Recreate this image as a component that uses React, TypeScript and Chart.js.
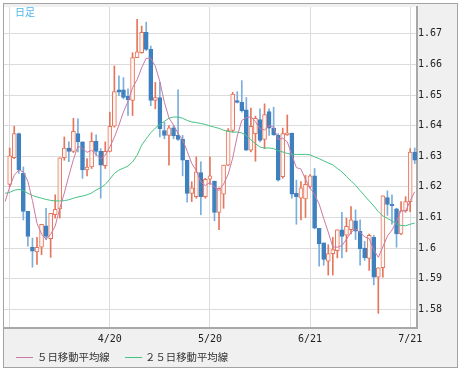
import React, { useEffect, useRef } from "react";
import { Chart, registerables } from "chart.js";

Chart.register(...registerables);

// ---- data (candle index 0 = first gridline day) ----
const opens = [
  1.6208, 1.6295, 1.6374, 1.6244, 1.612, 1.6003, 1.5988, 1.6003, 1.6073, 1.6031,
  1.6109, 1.6128, 1.6295, 1.6327, 1.6316, 1.6374, 1.6347, 1.6255, 1.6265, 1.6349,
  1.6316, 1.6269, 1.6316, 1.6398, 1.6517, 1.6517, 1.6496, 1.6482, 1.6622, 1.6638,
  1.6705, 1.6649, 1.6482, 1.6492, 1.6384, 1.6368, 1.6393, 1.6368, 1.6355, 1.6287,
  1.6179, 1.6168, 1.6247, 1.6168, 1.6225, 1.6219, 1.6117, 1.6176, 1.6271, 1.6384,
  1.6482, 1.6476, 1.6452, 1.632, 1.6374, 1.642, 1.6355, 1.6446, 1.6392, 1.6368,
  1.6233, 1.637, 1.6376, 1.6179, 1.6163, 1.6161, 1.62, 1.6236, 1.6065, 1.6017,
  1.5957, 1.5982, 1.5992, 1.606, 1.6042, 1.606, 1.6089, 1.6055, 1.6, 1.5966,
  1.6035, 1.5905, 1.5936, 1.6165, 1.6143, 1.6128, 1.6046, 1.6122, 1.6152, 1.6314,
];
const highs = [
  1.6327, 1.6398, 1.6376, 1.6265, 1.612, 1.6033, 1.6035, 1.6078, 1.613, 1.6114,
  1.6174, 1.6295, 1.6363, 1.6347, 1.6424, 1.6422, 1.6347, 1.6292, 1.6377, 1.637,
  1.6325, 1.6347, 1.6444, 1.6595, 1.6563, 1.6557, 1.652, 1.6638, 1.6747, 1.6725,
  1.6738, 1.666, 1.6541, 1.6541, 1.6411, 1.64, 1.64, 1.6517, 1.6368, 1.6287,
  1.6217, 1.6298, 1.6282, 1.6228, 1.6298, 1.6219, 1.6197, 1.6271, 1.639, 1.6509,
  1.6511, 1.6547, 1.6492, 1.6457, 1.6431, 1.6455, 1.6471, 1.6455, 1.646, 1.6374,
  1.6392, 1.6435, 1.6376, 1.6222, 1.6217, 1.6238, 1.624, 1.626, 1.6065, 1.6017,
  1.6011, 1.6035, 1.606, 1.6117, 1.6098, 1.6136, 1.6125, 1.6092, 1.6022, 1.6046,
  1.6042, 1.5936, 1.6171, 1.6187, 1.6174, 1.613, 1.6152, 1.6168, 1.6325, 1.6327,
];
const lows = [
  1.62, 1.6292, 1.6244, 1.6092, 1.6006, 1.5938, 1.5947, 1.5979, 1.6028, 1.597,
  1.6098, 1.6098, 1.6287, 1.6282, 1.6312, 1.6314, 1.6228, 1.6236, 1.626, 1.6303,
  1.6163, 1.626, 1.6314, 1.6395, 1.6498, 1.6487, 1.6433, 1.6433, 1.6622, 1.6636,
  1.6645, 1.6465, 1.6455, 1.6363, 1.6357, 1.6271, 1.6357, 1.6352, 1.6236, 1.615,
  1.6152, 1.6163, 1.6109, 1.6163, 1.6208, 1.6089, 1.606, 1.613, 1.6269, 1.6379,
  1.6474, 1.6444, 1.6318, 1.6314, 1.6284, 1.6347, 1.6325, 1.6368, 1.6368, 1.6219,
  1.6228, 1.6368, 1.6163, 1.6078, 1.6092, 1.61, 1.6195, 1.6063, 1.5941, 1.5944,
  1.5912, 1.5912, 1.5968, 1.5968, 1.5988, 1.6046, 1.6028, 1.5944, 1.596, 1.5927,
  1.588, 1.5787, 1.5905, 1.6107, 1.6078, 1.6003, 1.6044, 1.6117, 1.6119, 1.6276,
];
const closes = [
  1.6301, 1.6374, 1.6255, 1.612, 1.6038, 1.599, 1.6003, 1.6078, 1.6038, 1.6114,
  1.6127, 1.6295, 1.6327, 1.6316, 1.6381, 1.6347, 1.6255, 1.6265, 1.6349, 1.6316,
  1.6271, 1.6316, 1.6398, 1.6511, 1.6509, 1.6492, 1.6485, 1.6622, 1.6641, 1.6705,
  1.6649, 1.6482, 1.6492, 1.639, 1.6368, 1.6393, 1.6366, 1.6355, 1.6287, 1.6179,
  1.6197, 1.6249, 1.6168, 1.6225, 1.6236, 1.6117, 1.6195, 1.6271, 1.6384, 1.6503,
  1.6476, 1.6449, 1.632, 1.6398, 1.6424, 1.6352, 1.6436, 1.6392, 1.637, 1.6222,
  1.6374, 1.6376, 1.6176, 1.6168, 1.6197, 1.6208, 1.6236, 1.6065, 1.6014, 1.5963,
  1.5982, 1.5995, 1.606, 1.6038, 1.6071, 1.6092, 1.6055, 1.5998, 1.5968, 1.6042,
  1.5905, 1.5936, 1.6171, 1.6143, 1.6139, 1.6046, 1.6122, 1.6152, 1.6314, 1.6287,
];
// moving averages start one day earlier (index -1)
const maStartIndex = -1;
const ma5 = [
  1.6152, 1.62, 1.6238, 1.6255, 1.6249, 1.6218, 1.6155, 1.6081, 1.6046, 1.6029,
  1.6045, 1.6072, 1.613, 1.618, 1.6236, 1.6289, 1.6333, 1.6325, 1.6313, 1.6319,
  1.6306, 1.6291, 1.6303, 1.633, 1.6362, 1.6401, 1.6445, 1.6479, 1.6524, 1.655,
  1.6589, 1.662, 1.662, 1.6594, 1.6544, 1.6476, 1.6425, 1.6402, 1.6374, 1.6354,
  1.6316, 1.6277, 1.6253, 1.6216, 1.6204, 1.6215, 1.6199, 1.6188, 1.6209, 1.6241,
  1.6294, 1.6366, 1.6417, 1.6426, 1.6429, 1.6413, 1.6389, 1.6386, 1.64, 1.6395,
  1.6354, 1.6359, 1.6347, 1.6304, 1.6263, 1.6258, 1.6225, 1.6197, 1.6175, 1.6144,
  1.6097, 1.6052, 1.6004, 1.6003, 1.6008, 1.6029, 1.6051, 1.6063, 1.6051, 1.6037,
  1.6031, 1.5994, 1.597, 1.6004, 1.6039, 1.6059, 1.6087, 1.6124, 1.612, 1.6155,
  1.6184,
];
const ma25 = [
  1.6179, 1.6182, 1.6189, 1.6192, 1.6188, 1.6179, 1.6172, 1.6167, 1.6163, 1.6159,
  1.6156, 1.6154, 1.6154, 1.6155, 1.6158, 1.6163, 1.6167, 1.617, 1.6174, 1.618,
  1.619, 1.6197, 1.6208, 1.6225, 1.6244, 1.6255, 1.6261, 1.6268, 1.6282, 1.6303,
  1.6336, 1.6357, 1.6377, 1.6392, 1.6404, 1.6414, 1.6424, 1.6428, 1.6428, 1.6424,
  1.6417, 1.6412, 1.641, 1.6407, 1.6404, 1.6399, 1.6395, 1.6391, 1.6385, 1.6381,
  1.6379, 1.6379, 1.6376, 1.6368, 1.6354, 1.6341, 1.633, 1.6327, 1.6327, 1.6325,
  1.6318, 1.6314, 1.6309, 1.6306, 1.6306, 1.6306, 1.6306, 1.6305, 1.6298, 1.6292,
  1.6285, 1.6278, 1.6272, 1.626, 1.6249, 1.6234, 1.622, 1.6205, 1.6188, 1.6171,
  1.6154, 1.6138, 1.6119, 1.6105, 1.6097, 1.6089, 1.6079, 1.6074, 1.6073, 1.6078,
  1.6082,
];
const xTickIndex = [0, 22, 44, 66, 88];
const xTickLabels = ["", "4/20", "5/20", "6/21", "7/21"];
const yTickValues = [1.58, 1.59, 1.6, 1.61, 1.62, 1.63, 1.64, 1.65, 1.66, 1.67];
const yTickLabels = ["1.58", "1.59", "1.6", "1.61", "1.62", "1.63", "1.64", "1.65", "1.66", "1.67"];
const seriesNames = ["５日移動平均線", "２５日移動平均線"];
const chartTitle = "日足";

// ---- styles ----
const UP = "#e5765c";
const UP_FILL = "#fff6f3";
const DOWN = "#3f80bf";
const DOWN_WICK = "#7aaedb";
const MA5_COLOR = "#cc7aa3";
const MA25_COLOR = "#46c283";
const GRID = "#dcdcdc";
const BORDER = "#a8a8a8";

const plotBg = {
  id: "plotBg",
  beforeDraw(chart: any) {
    const { ctx, chartArea } = chart;
    ctx.save();
    ctx.fillStyle = "#ffffff";
    ctx.fillRect(chartArea.left, chartArea.top, chartArea.right - chartArea.left, chartArea.bottom - chartArea.top);
    ctx.restore();
  },
};

export default function App() {
  const ref = useRef<HTMLCanvasElement>(null);

  useEffect(() => {
    if (!ref.current) return;
    const isUp = opens.map((o, i) => closes[i] >= o);
    const bodies = opens.map((o, i) => ({ x: i, y: [o, closes[i]] }));
    const wicks = lows.map((l, i) => ({ x: i, y: [l, highs[i]] }));
    const ma5Pts = ma5.map((v, k) => ({ x: k + maStartIndex, y: v }));
    const ma25Pts = ma25.map((v, k) => ({ x: k + maStartIndex, y: v }));

    const chart = new Chart(ref.current, {
      type: "bar",
      data: {
        datasets: [
          {
            type: "line",
            label: seriesNames[0],
            data: ma5Pts as any,
            borderColor: MA5_COLOR,
            borderWidth: 1,
            pointRadius: 0,
            tension: 0,
            order: 0,
          },
          {
            type: "line",
            label: seriesNames[1],
            data: ma25Pts as any,
            borderColor: MA25_COLOR,
            borderWidth: 1,
            pointRadius: 0,
            tension: 0,
            order: 0,
          },
          {
            type: "bar",
            label: "body",
            data: bodies as any,
            backgroundColor: isUp.map((u) => (u ? UP_FILL : DOWN)),
            borderColor: isUp.map((u) => (u ? UP : DOWN)),
            borderWidth: 1,
            borderSkipped: false,
            barThickness: 4,
            grouped: false,
            order: 1,
          } as any,
          {
            type: "bar",
            label: "wick",
            data: wicks as any,
            backgroundColor: isUp.map((u) => (u ? UP : DOWN_WICK)),
            borderWidth: 0,
            barThickness: 1,
            grouped: false,
            order: 2,
          } as any,
        ],
      },
      options: {
        responsive: false,
        animation: false,
        devicePixelRatio: 1,
        layout: { padding: { left: 4, top: 4, right: 0, bottom: 23 } },
        plugins: { legend: { display: false }, tooltip: { enabled: false } },
        scales: {
          x: {
            type: "linear",
            min: -1.25,
            max: 89.5,
            offset: false,
            grid: { color: GRID, lineWidth: 1, drawTicks: false, offset: false },
            border: { display: true, color: BORDER, width: 2 },
            ticks: {
              padding: 5,
              maxRotation: 0,
              autoSkip: false,
              color: "#222",
              font: { family: "'DejaVu Sans Mono', monospace", size: 10 },
              callback: (_v: any, idx: number) => xTickLabels[idx],
            },
            afterBuildTicks: (s: any) => {
              s.ticks = xTickIndex.map((v) => ({ value: v }));
            },
            afterFit: (s: any) => {
              s.height = 20;
            },
          },
          y: {
            type: "linear",
            position: "right",
            min: 1.573918,
            max: 1.678738,
            grid: { color: GRID, lineWidth: 1, drawTicks: false },
            border: { display: true, color: BORDER, width: 2 },
            ticks: {
              padding: 1,
              color: "#222",
              font: { family: "'DejaVu Sans Mono', monospace", size: 10 },
              callback: (_v: any, idx: number) => yTickLabels[idx],
            },
            afterBuildTicks: (s: any) => {
              s.ticks = yTickValues.map((v) => ({ value: v }));
            },
            afterFit: (s: any) => {
              s.width = 45;
            },
          },
        },
      } as any,
      plugins: [plotBg],
    });
    return () => chart.destroy();
  }, []);

  const legendText: React.CSSProperties = {
    position: "absolute",
    top: 350,
    fontFamily: "'Noto Sans CJK JP', sans-serif",
    fontSize: 10.4,
    lineHeight: "14px",
    color: "#333",
    whiteSpace: "nowrap",
  };

  return (
    <div style={{ position: "absolute", left: 0, top: 0, width: 462, height: 371 }}>
      <div
        style={{
          position: "absolute",
          left: 3,
          top: 3,
          width: 455,
          height: 365,
          boxSizing: "border-box",
          border: "1px solid #a3a3a3",
          background: "#f0f0f0",
        }}
      />
      <canvas
        ref={ref}
        width={462}
        height={371}
        style={{ position: "absolute", left: 0, top: 0, width: 462, height: 371 }}
      />
      <div
        style={{
          position: "absolute",
          left: 15,
          top: 5,
          fontFamily: "'Noto Sans CJK JP', sans-serif",
          fontSize: 10,
          lineHeight: "13px",
          color: "#4fb6e8",
        }}
      >
        {chartTitle}
      </div>
      <div style={{ position: "absolute", left: 16, top: 357, width: 17, height: 1, background: MA5_COLOR }} />
      <div style={{ ...legendText, left: 37 }}>{seriesNames[0]}</div>
      <div style={{ position: "absolute", left: 125, top: 357, width: 17, height: 1, background: MA25_COLOR }} />
      <div style={{ ...legendText, left: 145 }}>{seriesNames[1]}</div>
    </div>
  );
}
